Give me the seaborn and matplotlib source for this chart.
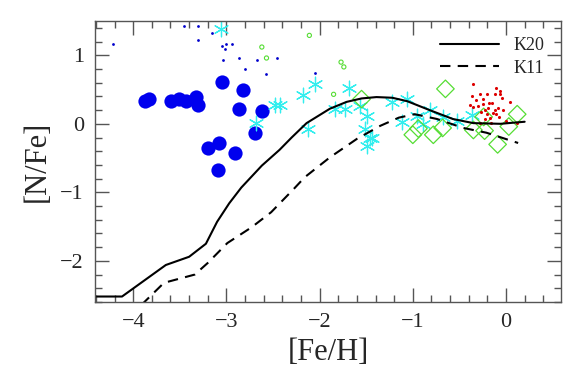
import matplotlib
matplotlib.use("Agg")
import matplotlib.pyplot as plt
import numpy as np
import pandas as pd
import seaborn as sns
from matplotlib.ticker import MultipleLocator

# large blue circles
big_feh = [-3.87, -3.83, -3.59, -3.51, -3.43, -3.33, -3.31, -3.05, -2.82, -2.86,
           -2.62, -2.69, -3.20, -3.08, -2.91, -3.09]
big_nfe = [0.33, 0.36, 0.33, 0.36, 0.33, 0.39, 0.28, 0.61, 0.49, 0.22,
           0.19, -0.13, -0.35, -0.28, -0.42, -0.68]

# small blue dots
dot_feh = [-4.22, -3.46, -3.30, -3.30, -3.16, -3.05, -3.00, -2.94, -3.01, -3.04,
           -2.86, -2.67, -2.46, -2.80, -2.58, -2.05]
dot_nfe = [1.17, 1.42, 1.43, 1.23, 1.33, 1.13, 1.17, 1.16, 1.09, 0.93,
           0.96, 0.93, 0.96, 0.80, 0.72, 0.74]

# green small open circles
gc_feh = [-2.62, -2.57, -2.11, -1.77, -1.74, -1.85]
gc_nfe = [1.12, 0.96, 1.29, 0.90, 0.83, 0.43]

# cyan asterisks
ast_feh = [-3.06, -2.48, -2.68, -2.43, -2.05, -2.18, -1.69, -2.12, -1.84, -1.73,
           -1.57, -1.49, -1.51, -1.46, -1.49, -1.22, -1.06, -1.12, -0.96, -0.89,
           -0.82, -0.68, -0.53, -0.37, -1.44]
ast_nfe = [1.38, 0.27, 0.01, 0.28, 0.58, 0.42, 0.52, -0.07, 0.22, 0.22,
           0.26, 0.12, -0.07, -0.20, -0.32, 0.32, 0.36, 0.03, 0.11, 0.00,
           0.20, 0.10, 0.04, 0.13, -0.20]

# green open diamonds
dia_feh = [-1.55, -0.65, -1.00, -0.94, -0.78, -0.68, -0.35, -0.23, -0.24, 0.12, 0.03, -0.09]
dia_nfe = [0.36, 0.51, -0.16, -0.07, -0.16, -0.06, -0.09, -0.10, 0.10, 0.14, -0.04, -0.30]

# red dots
red_feh = [-0.35, -0.11, -0.28, -0.20, -0.12, -0.06, -0.37, -0.04, -0.25, 0.04,
           -0.18, -0.15, -0.39, -0.25, -0.30, -0.35, -0.19, -0.09, -0.03, -0.12,
           -0.14, -0.23, -0.20, -0.27, -0.11, -0.17, -0.23, -0.16, 0.00, -0.28,
           0.12, -0.06, -0.32, -0.08]
red_nfe = [0.58, 0.52, 0.43, 0.43, 0.43, 0.43, 0.41, 0.38, 0.36, 0.32,
           0.30, 0.30, 0.28, 0.29, 0.26, 0.25, 0.23, 0.23, 0.20, 0.20,
           0.16, 0.20, 0.14, 0.17, 0.14, 0.09, 0.07, 0.01, 0.04, 0.01,
           0.01, 0.48, 0.35, 0.10]

# model curves
k20_feh = [-4.41, -4.12, -3.65, -3.40, -3.22, -3.10, -2.97, -2.84, -2.62, -2.43,
           -2.30, -2.14, -1.89, -1.71, -1.55, -1.39, -1.22, -1.06, -0.82, -0.57,
           -0.35, -0.06, 0.20]
k20_nfe = [-2.52, -2.52, -2.06, -1.94, -1.75, -1.43, -1.16, -0.93, -0.61, -0.38,
           -0.20, 0.01, 0.22, 0.32, 0.37, 0.39, 0.38, 0.33, 0.20, 0.07,
           0.01, 0.00, 0.03]
k11_feh = [-3.91, -3.67, -3.34, -3.20, -2.99, -2.73, -2.52, -2.27, -2.16, -1.89,
           -1.60, -1.35, -1.15, -0.98, -0.74, -0.46, -0.21, 0.13]
k11_nfe = [-2.64, -2.32, -2.20, -2.03, -1.74, -1.51, -1.29, -0.94, -0.78, -0.49,
           -0.22, -0.03, 0.09, 0.14, 0.07, -0.06, -0.13, -0.28]

sns.set_style("ticks")
plt.rcParams['font.family'] = ['Liberation Serif', 'DejaVu Serif']

fig = plt.figure(figsize=(5.7, 3.87), dpi=100)
ax = fig.add_axes([95 / 570, 1 - 302 / 387, 466 / 570, 281 / 387])

star = (6, 2, 0)
sns.scatterplot(x=dot_feh, y=dot_nfe, ax=ax, color='#0000cc', s=4, linewidth=0, marker='o')
sns.scatterplot(x=gc_feh, y=gc_nfe, ax=ax, s=9, marker='o', facecolor='none',
                edgecolor='#55dd33', linewidth=0.8)
sns.scatterplot(x=big_feh, y=big_nfe, ax=ax, color='#0000ee', s=105, linewidth=0, marker='o')
sns.scatterplot(x=ast_feh, y=ast_nfe, ax=ax, color='#33eeee', s=110, marker=star, linewidth=0.9)
sns.scatterplot(x=dia_feh, y=dia_nfe, ax=ax, s=80, marker='D', facecolor='none',
                edgecolor='#55dd33', linewidth=0.9)
sns.scatterplot(x=red_feh, y=red_nfe, ax=ax, color='#dd0000', s=5, linewidth=0, marker='o')

k20 = pd.DataFrame({'feh': k20_feh, 'nfe': k20_nfe})
k11 = pd.DataFrame({'feh': k11_feh, 'nfe': k11_nfe})
sns.lineplot(data=k20, x='feh', y='nfe', ax=ax, sort=False, estimator=None,
             color='black', linewidth=1.5, label='K20')
sns.lineplot(data=k11, x='feh', y='nfe', ax=ax, sort=False, estimator=None,
             color='black', linewidth=1.5, linestyle=(0, (5, 3.5)), label='K11')

ax.set_xlim(-4.41, 0.59)
ax.set_ylim(-2.6, 1.5)
ax.xaxis.set_major_locator(MultipleLocator(1))
ax.xaxis.set_minor_locator(MultipleLocator(0.2))
ax.yaxis.set_major_locator(MultipleLocator(1))
ax.yaxis.set_minor_locator(MultipleLocator(0.2))
ax.tick_params(which='both', direction='in', top=True, right=True, color='#555555',
               labelsize=16, pad=8)
ax.tick_params(which='major', length=10, width=1)
ax.tick_params(which='minor', length=5, width=1)
for sp in ax.spines.values():
    sp.set_color('#555555')
    sp.set_linewidth(1)

ax.set_xlabel('[Fe/H]', fontsize=22, labelpad=4)
ax.set_ylabel('[N/Fe]', fontsize=22, labelpad=6)

ax.legend(loc='upper right', frameon=False, fontsize=13, handlelength=3.3,
          borderaxespad=0.5, labelspacing=0.3)

fig.savefig('out.png', dpi=100)
